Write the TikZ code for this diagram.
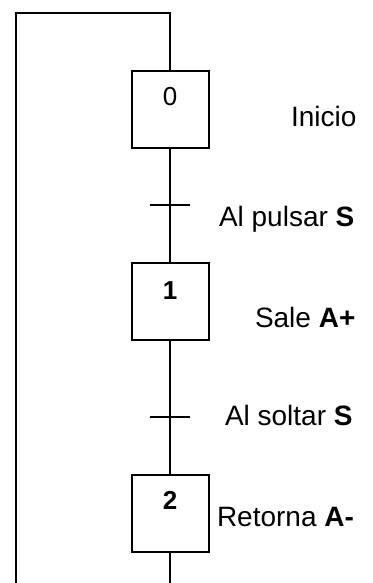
\documentclass[tikz,border=0pt]{standalone}
\usepackage{fontspec}
\setmainfont{Liberation Sans}
\begin{document}
\begin{tikzpicture}[x=1pt,y=-1pt,line width=2pt,
  stepbox/.style={draw,minimum width=77pt,minimum height=77pt,inner sep=0pt},
  num/.style={inner sep=0pt,anchor=base,font=\fontsize{26}{29}\selectfont},
  lbl/.style={inner sep=0pt,anchor=base west,font=\fontsize{28}{32}\selectfont}]
\useasboundingbox (0,0) rectangle (372,583);
\node[stepbox] (s0) at (170,109.5) {};
\node[stepbox] (s1) at (170,301.5) {};
\node[stepbox] (s2) at (170,513) {};
\node[num] (n0) at (170,106) {0};
\node[num] (n1) at (170,299) {\textbf{1}};
\node[num] (n2) at (170,509) {\textbf{2}};
\coordinate (tr) at (170,13);
\coordinate (tl) at (16,13);
\coordinate (bl) at (16,583);
\coordinate (bc) at (170,583);
\coordinate (t1) at (170,205);
\coordinate (t2) at (170,417);
\draw (s0.north) -- (tr) -- (tl) -- (bl);
\draw (s0.south) -- (t1) -- (s1.north);
\draw (s1.south) -- (t2) -- (s2.north);
\draw (s2.south) -- (bc);
\draw ([xshift=-20pt]t1) -- ([xshift=20pt]t1);
\draw ([xshift=-20pt]t2) -- ([xshift=20pt]t2);
\node[lbl] (l0) at (290,127) {Inicio};
\node[lbl] (l1) at (218,226.5) {Al pulsar \textbf{S}};
\node[lbl] (l2) at (254,327) {Sale \textbf{A+}};
\node[lbl] (l3) at (224,425) {Al soltar \textbf{S}};
\node[lbl] (l4) at (216,526) {Retorna \textbf{A-}};
\end{tikzpicture}
\end{document}
